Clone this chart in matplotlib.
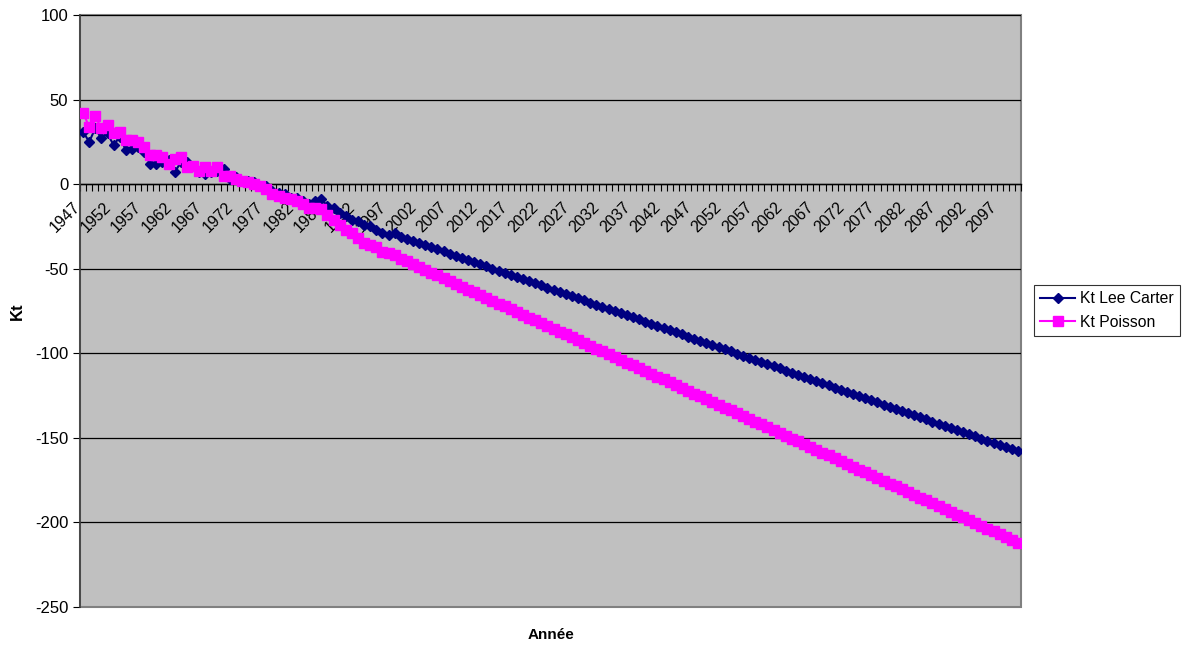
import numpy as np
import matplotlib
matplotlib.use("Agg")
import matplotlib.pyplot as plt
from matplotlib.patches import Rectangle

plt.rcParams['font.family'] = ['Liberation Sans', 'DejaVu Sans']
plt.rcParams['axes.unicode_minus'] = False

annees = list(range(1947, 2101))

# Kt estimé (1947-1999) puis projeté (2000-2100)
kt_lee_carter = [
    31, 25, 33, 27, 30, 23, 28, 20, 21, 22,
    19, 12, 12, 13, 14, 7, 13, 13, 11, 7,
    6, 7, 8, 9, 3, 4, 2, 2, 1, -1,
    -1, -4, -5, -6, -8, -8, -10, -12, -10, -9,
    -13, -14, -17, -19, -21, -22, -24, -25, -27, -29,
    -30, -29, -31,
    -32.3, -33.5, -34.8, -36.0, -37.3, -38.5, -39.8, -41.1, -42.3, -43.6,
    -44.8, -46.1, -47.3, -48.6, -49.9, -51.1, -52.4, -53.6, -54.9, -56.1,
    -57.4, -58.7, -59.9, -61.2, -62.4, -63.7, -65.0, -66.2, -67.5, -68.7,
    -70.0, -71.2, -72.5, -73.8, -75.0, -76.3, -77.5, -78.8, -80.0, -81.3,
    -82.6, -83.8, -85.1, -86.3, -87.6, -88.8, -90.1, -91.4, -92.6, -93.9,
    -95.1, -96.4, -97.6, -98.9, -100.2, -101.4, -102.7, -103.9, -105.2, -106.4,
    -107.7, -109.0, -110.2, -111.5, -112.7, -114.0, -115.2, -116.5, -117.8, -119.0,
    -120.3, -121.5, -122.8, -124.0, -125.3, -126.6, -127.8, -129.1, -130.3, -131.6,
    -132.8, -134.1, -135.4, -136.6, -137.9, -139.1, -140.4, -141.7, -142.9, -144.2,
    -145.4, -146.7, -147.9, -149.2, -150.5, -151.7, -153.0, -154.2, -155.5, -156.7,
    -158.0,
]

kt_poisson = [
    42, 34, 40, 33, 35, 30, 31, 26, 26, 25,
    22, 17, 17, 16, 12, 15, 16, 10, 11, 8,
    10, 8, 10, 5, 5, 3, 2, 1, 0, -1,
    -3, -6, -7, -8, -9, -10, -12, -14, -14, -15,
    -18, -21, -24, -27, -29, -32, -35, -36, -37, -40,
    -41, -42, -44,
    -45.7, -47.3, -49.0, -50.7, -52.3, -54.0, -55.6, -57.3, -59.0, -60.6,
    -62.3, -64.0, -65.6, -67.3, -69.0, -70.6, -72.3, -73.9, -75.6, -77.3,
    -78.9, -80.6, -82.3, -83.9, -85.6, -87.2, -88.9, -90.6, -92.2, -93.9,
    -95.6, -97.2, -98.9, -100.6, -102.2, -103.9, -105.5, -107.2, -108.9, -110.5,
    -112.2, -113.9, -115.5, -117.2, -118.9, -120.5, -122.2, -123.8, -125.5, -127.2,
    -128.8, -130.5, -132.2, -133.8, -135.5, -137.1, -138.8, -140.5, -142.1, -143.8,
    -145.5, -147.1, -148.8, -150.5, -152.1, -153.8, -155.4, -157.1, -158.8, -160.4,
    -162.1, -163.8, -165.4, -167.1, -168.8, -170.4, -172.1, -173.7, -175.4, -177.1,
    -178.7, -180.4, -182.1, -183.7, -185.4, -187.0, -188.7, -190.4, -192.0, -193.7,
    -195.4, -197.0, -198.7, -200.4, -202.0, -203.7, -205.3, -207.0, -208.7, -210.3,
    -212.0,
]

fig = plt.figure(figsize=(11.87, 6.46), dpi=100)
ax = fig.add_axes([0.0674, 0.0604, 0.7928, 0.9164])
ax.set_facecolor('#C0C0C0')

ax.plot(annees, kt_lee_carter, color='#000080', lw=1.5, marker='D',
        ms=5.5, mec='#000080', mfc='#000080', label='Kt Lee Carter', zorder=3)
ax.plot(annees, kt_poisson, color='#FF00FF', lw=1.5, marker='s',
        ms=7, mec='#FF00FF', mfc='#FF00FF', label='Kt Poisson', zorder=4)

ax.set_xlim(annees[0] - 0.5, annees[-1] + 0.5)
ax.set_ylim(-250, 100)
ax.set_yticks(np.arange(-250, 101, 50))
for v in range(-200, 101, 50):
    ax.axhline(v, color='black', lw=0.9, zorder=1)

# axe des catégories placé sur y = 0
for s in ['top', 'right']:
    ax.spines[s].set_visible(False)
ax.spines['bottom'].set_position(('data', 0))
ax.spines['bottom'].set_linewidth(1.0)
ax.spines['bottom'].set_zorder(2)
ax.spines['left'].set_color('#404040')
ax.spines['left'].set_linewidth(1.2)
ax.add_patch(Rectangle((0, 0), 1, 1, transform=ax.transAxes, fill=False,
                       edgecolor='#808080', lw=1.5, zorder=0.5, clip_on=False))

ax.set_xticks(annees[::5])
ax.set_xticklabels([str(a) for a in annees[::5]], rotation=45, ha='right',
                   fontsize=11.5)
ax.set_xticks(np.arange(annees[0] - 0.5, annees[-1] + 1), minor=True)
ax.tick_params(axis='x', which='major', length=0, pad=11)
ax.tick_params(axis='x', which='minor', length=5, width=0.8, direction='out')
ax.tick_params(axis='y', labelsize=12, length=5, width=0.8)

ax.set_ylabel('Kt', fontsize=12, fontweight='bold')
ax.yaxis.set_label_coords(-0.059, 0.5)
ax.set_xlabel('Année', fontsize=11, fontweight='bold')
ax.xaxis.set_label_coords(0.5, -0.035)

leg = ax.legend(loc='upper left', bbox_to_anchor=(1034 / 1187, 1 - 285 / 646),
                bbox_transform=fig.transFigure, fontsize=11.3, frameon=True,
                fancybox=False, edgecolor='black', borderaxespad=0,
                borderpad=0.4, handlelength=2.2, handletextpad=0.3,
                labelspacing=0.55)
leg.get_frame().set_linewidth(0.8)

fig.savefig('out.png', dpi=100)
